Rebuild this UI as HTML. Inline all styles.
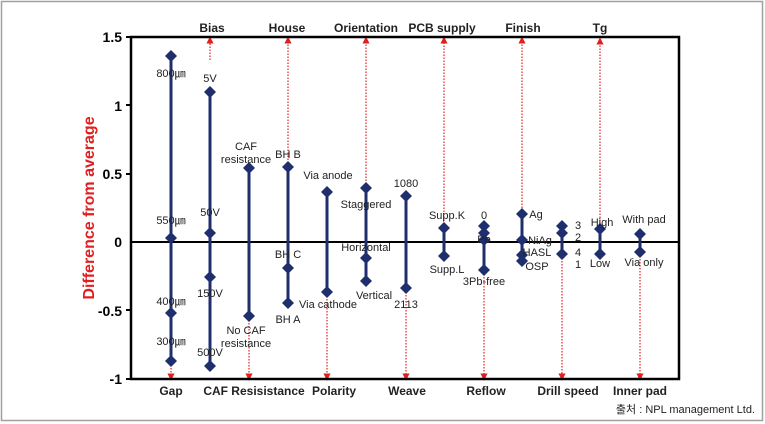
<!DOCTYPE html>
<html><head><style>body{margin:0;background:#fff}svg{display:block}</style></head><body>
<svg width="765" height="424" viewBox="0 0 765 424" xmlns="http://www.w3.org/2000/svg" font-family="Liberation Sans, sans-serif">
<rect x="1.5" y="1.5" width="761" height="419" fill="#fff" stroke="#a0a0a0" stroke-width="1.5"/>
<defs><marker id="au" markerWidth="6" markerHeight="6" refX="3" refY="3" orient="auto"><path d="M0,0L6,3L0,6z" fill="#e02020"/></marker></defs>
<g stroke="#e02020" stroke-width="1.2" stroke-dasharray="1.5,1.5" fill="none" marker-end="url(#au)">
<line x1="210" y1="60" x2="210" y2="40"/><line x1="288" y1="163" x2="288" y2="40"/>
<line x1="366" y1="184" x2="366" y2="40"/><line x1="444" y1="224" x2="444" y2="40"/>
<line x1="522" y1="208" x2="522" y2="40"/><line x1="600" y1="224" x2="600" y2="41"/>
<line x1="171" y1="365" x2="171" y2="377"/><line x1="249" y1="320" x2="249" y2="377"/>
<line x1="327" y1="296" x2="327" y2="377"/><line x1="406" y1="292" x2="406" y2="377"/>
<line x1="484" y1="274" x2="484" y2="377"/><line x1="562" y1="258" x2="562" y2="377"/>
<line x1="640" y1="256" x2="640" y2="377"/>
</g>
<rect x="131" y="37" width="548" height="342" fill="none" stroke="#000" stroke-width="2.5"/>
<line x1="131" y1="242" x2="679" y2="242" stroke="#000" stroke-width="2"/>
<g font-size="14" font-weight="bold" text-anchor="end">
<text x="122" y="42">1.5</text><text x="122" y="111">1</text><text x="122" y="179">0.5</text>
<text x="122" y="247">0</text><text x="122" y="316">-0.5</text><text x="122" y="384">-1</text></g>
<g stroke="#000" stroke-width="2"><line x1="126" y1="37" x2="131" y2="37"/><line x1="126" y1="105" x2="131" y2="105"/><line x1="126" y1="174" x2="131" y2="174"/><line x1="126" y1="310" x2="131" y2="310"/><line x1="126" y1="379" x2="131" y2="379"/></g>
<text transform="translate(94,208) rotate(-90)" font-size="16" font-weight="bold" fill="#e02020" text-anchor="middle">Difference from average</text>
<g font-size="12" font-weight="bold" text-anchor="middle" fill="#222">
<text x="212" y="32">Bias</text><text x="287" y="32">House</text><text x="366" y="32">Orientation</text>
<text x="442" y="32">PCB supply</text><text x="523" y="32">Finish</text><text x="600" y="32">Tg</text>
<text x="171" y="395">Gap</text><text x="254" y="395">CAF Resisistance</text><text x="334" y="395">Polarity</text>
<text x="407" y="395">Weave</text><text x="486" y="395">Reflow</text><text x="568" y="395">Drill speed</text><text x="640" y="395">Inner pad</text></g>
<g stroke="#1f2f6e" stroke-width="3">
<line x1="171" y1="56" x2="171" y2="361"/><line x1="210" y1="92" x2="210" y2="366"/>
<line x1="249" y1="168" x2="249" y2="316"/><line x1="288" y1="167" x2="288" y2="303"/>
<line x1="327" y1="192" x2="327" y2="292"/><line x1="366" y1="188" x2="366" y2="281"/>
<line x1="406" y1="196" x2="406" y2="288"/><line x1="444" y1="228" x2="444" y2="256"/>
<line x1="484" y1="226" x2="484" y2="270"/><line x1="522" y1="214" x2="522" y2="261"/>
<line x1="562" y1="226" x2="562" y2="254"/><line x1="600" y1="229" x2="600" y2="254"/>
<line x1="640" y1="234" x2="640" y2="252"/></g>
<g fill="#1f2f6e">
<path id="d" d="M0,-6L6,0L0,6L-6,0z" transform="translate(171,56)"/>
<use href="#d" transform="translate(0,182)"/><use href="#d" transform="translate(0,257)"/><use href="#d" transform="translate(0,305)"/>
<use href="#d" transform="translate(39,36)"/><use href="#d" transform="translate(39,177)"/><use href="#d" transform="translate(39,221)"/><use href="#d" transform="translate(39,310)"/>
<use href="#d" transform="translate(78,112)"/><use href="#d" transform="translate(78,260)"/>
<use href="#d" transform="translate(117,111)"/><use href="#d" transform="translate(117,212)"/><use href="#d" transform="translate(117,247)"/>
<use href="#d" transform="translate(156,136)"/><use href="#d" transform="translate(156,236)"/>
<use href="#d" transform="translate(195,132)"/><use href="#d" transform="translate(195,202)"/><use href="#d" transform="translate(195,225)"/>
<use href="#d" transform="translate(235,140)"/><use href="#d" transform="translate(235,232)"/>
<use href="#d" transform="translate(273,172)"/><use href="#d" transform="translate(273,200)"/>
<use href="#d" transform="translate(313,170)"/><use href="#d" transform="translate(313,177)"/><use href="#d" transform="translate(313,184)"/><use href="#d" transform="translate(313,214)"/>
<use href="#d" transform="translate(351,158)"/><use href="#d" transform="translate(351,184)"/><use href="#d" transform="translate(351,199)"/><use href="#d" transform="translate(351,205)"/>
<use href="#d" transform="translate(391,170)"/><use href="#d" transform="translate(391,177)"/><use href="#d" transform="translate(391,198)"/>
<use href="#d" transform="translate(429,173)"/><use href="#d" transform="translate(429,198)"/>
<use href="#d" transform="translate(469,178)"/><use href="#d" transform="translate(469,196)"/>
</g>
<g font-size="11" fill="#222" text-anchor="middle">
<text x="171" y="77">800㎛</text><text x="171" y="224">550㎛</text><text x="171" y="305">400㎛</text><text x="171" y="345">300㎛</text>
<text x="210" y="82">5V</text><text x="210" y="216">50V</text><text x="210" y="297">150V</text><text x="210" y="356">500V</text>
<text x="246" y="150">CAF</text><text x="246" y="163">resistance</text><text x="246" y="334">No CAF</text><text x="246" y="347">resistance</text>
<text x="288" y="158">BH B</text><text x="288" y="258">BH C</text><text x="288" y="323">BH A</text>
<text x="328" y="179">Via anode</text><text x="328" y="308">Via cathode</text>
<text x="366" y="208">Staggered</text><text x="366" y="251">Horizontal</text><text x="374" y="299">Vertical</text>
<text x="406" y="187">1080</text><text x="406" y="308">2113</text>
<text x="447" y="219">Supp.K</text><text x="447" y="273">Supp.L</text>
<text x="484" y="219">0</text><text x="484" y="243">Pb</text><text x="484" y="285">3Pb-free</text>
<text x="536" y="218">Ag</text><text x="540" y="244">NiAg</text><text x="537" y="256">HASL</text><text x="537" y="270">OSP</text>
<text x="578" y="229">3</text><text x="578" y="241">2</text><text x="578" y="256">4</text><text x="578" y="268">1</text>
<text x="602" y="226">High</text><text x="600" y="267">Low</text>
<text x="644" y="223">With pad</text><text x="644" y="266">Via only</text></g>
<text x="755" y="413" font-size="11" fill="#222" text-anchor="end" font-family="Liberation Sans, Noto Sans CJK KR, sans-serif">출처 : NPL management Ltd.</text>
</svg>
</body></html>
